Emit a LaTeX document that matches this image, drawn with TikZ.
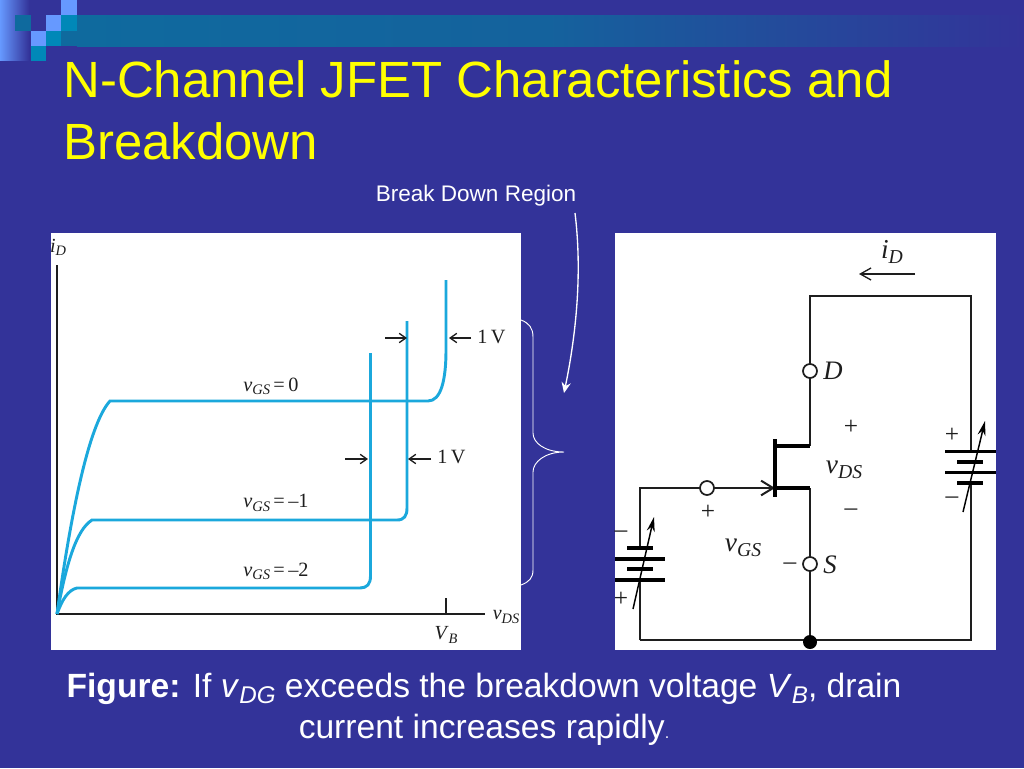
\documentclass[tikz,border=0pt]{standalone}
\usepackage{fontspec}
\setmainfont{Liberation Serif}
\newfontfamily\slidefont{Liberation Sans}
\usetikzlibrary{positioning,arrows.meta}
\definecolor{colorback}  {RGB}{51 ,51 ,153}
\definecolor{colorband}  {RGB}{15 ,106,158}
\definecolor{colorteal}  {RGB}{0  ,136,184}
\definecolor{colorlight} {RGB}{102,153,255}
\definecolor{colorcurve} {RGB}{27 ,168,220}
\definecolor{colorink}   {RGB}{30 ,30 ,30 }
\definecolor{colortitle} {RGB}{255,255,0  }
\newcommand{\isub}[2]{\textit{#1}\raisebox{-.35ex}{\scalebox{.72}{\textit{#2}}}}
\newcommand{\plotlabel}[1]{\isub{v}{GS}\,=\,#1}

\begin{document}
\begin{tikzpicture}[
    x=.75pt, y=-.75pt,
    title/.style={text=colortitle,font={\slidefont\fontsize{38.2}{47}\selectfont},align=left,inner sep=0pt},
    caption/.style={text=white,font={\slidefont\fontsize{25.2}{30.75}\selectfont},align=center,inner sep=0pt},
    note/.style={text=white,font={\slidefont\fontsize{16.9}{19}\selectfont},inner sep=0pt},
    plotlabel/.style={text=colorink,font={\fontsize{15.2}{17}\selectfont},inner sep=0pt},
    symbol/.style={text=colorink,font={\fontsize{19}{22}\selectfont},inner sep=0pt},
    axislabel/.style={symbol,font={\fontsize{15}{17}\selectfont}},
    bigitalic/.style={symbol,font={\itshape\fontsize{20}{22}\selectfont}},
    vlabel/.style={symbol,font={\fontsize{20.5}{23}\selectfont}},
    panel/.style={fill=white,draw=none},
    curve/.style={colorcurve,line width=2.2pt},
    axis/.style={colorink,line width=1.2pt},
    wire/.style={colorink,line width=1.5pt},
    plate/.style={black,line width=2.6pt},
    terminal/.style={circle,draw=colorink,fill=white,line width=1.3pt,minimum size=10.5pt,inner sep=0pt},
    varrow/.style={black,line width=1.1pt,-{Stealth[length=11pt,width=6pt]}},
    dimarrow/.style={colorink,line width=1pt,-{Straight Barb[length=5pt,width=7pt]}},
    brace/.style={white,line width=.7pt},
]

    % Slide
    \fill[colorback] (0,0) rectangle (1024,768);
    \useasboundingbox (0,0) rectangle (1024,768);
    \shade[left color=colorlight,right color=colorback] (0,0) rectangle (29,60);
    \shade[left color=colorband,right color=colorback,middle color=colorband!85!colorback] (77,15) rectangle (1024,46);
    \fill[colorband] (15,15) rectangle (31,31);
    \fill[colorlight] (46,15) rectangle (61,31);
    \fill[colorlight] (61,0) rectangle (77,15);
    \fill[colorteal] (61,15) rectangle (77,31);
    \fill[colorlight] (31,31) rectangle (46,46);
    \fill[colorteal] (46,31) rectangle (61,46);
    \fill[colorband] (61,31) rectangle (77,46);
    \fill[colorteal] (31,46) rectangle (46,61);

    \node[title,anchor=north west] (slidetitle) at (63,60) {N-Channel JFET Characteristics and\\Breakdown};
    \node[caption] (figcaption) at (484,709.5) {\textbf{Figure:} If \isub{v}{DG} exceeds the breakdown voltage \isub{V}{B}, drain\\current increases rapidly{\fontsize{12}{12}\selectfont.}};

    % Characteristics
    \fill[panel] (51,233) rectangle (521,650);
    \coordinate (origin) at (57,614);
    \coordinate (idend) at (57,265);
    \coordinate (vdsend) at (485,614);
    \coordinate (vbfoot) at (446,614);
    \coordinate (vbtop) at (446,598);
    \draw[axis] (idend) -- (origin) -- (vdsend);
    \draw[axis,line width=.8pt] (vbfoot) -- (vbtop);
    \node[axislabel] (idlabel) at (58,247) {\isub{i}{D}};
    \node[axislabel] (vdslabel) at (506,617) {\isub{v}{DS}};
    \node[axislabel] (vblabel) at (446,635) {\isub{V}{B}};

    \draw[curve] (origin) .. controls (70,520) and (88,425) .. (110,401) -- (428,401)
        .. controls (441,401) and (446,380) .. (446,350) -- (446,280);
    \draw[curve] (origin) .. controls (66,565) and (76,530) .. (92,520) -- (397,520)
        .. controls (404,520) and (407,516) .. (407,508) -- (407,321);
    \draw[curve] (origin) .. controls (62,600) and (68,590) .. (77,588) -- (360,588)
        .. controls (367,588) and (370.5,584) .. (370.5,576) -- (370.5,353);

    \node[plotlabel,anchor=west] (gszero) at (243,386) {\plotlabel{0}};
    \node[plotlabel,anchor=west] (gsone) at (243,503) {\plotlabel{--1}};
    \node[plotlabel,anchor=west] (gstwo) at (243,571) {\plotlabel{--2}};

    \coordinate (topa) at (385,338);
    \coordinate (topb) at (407,338);
    \coordinate (topc) at (471,338);
    \coordinate (topd) at (449,338);
    \coordinate (lowa) at (345,459);
    \coordinate (lowb) at (368,459);
    \coordinate (lowc) at (431,459);
    \coordinate (lowd) at (408,459);
    \draw[dimarrow] (topa) -- (topb);
    \draw[dimarrow] (topc) -- (topd);
    \draw[dimarrow] (lowa) -- (lowb);
    \draw[dimarrow] (lowc) -- (lowd);
    \node[plotlabel,anchor=west] (onevtop) at (477,337) {1\,V};
    \node[plotlabel,anchor=west] (onevlow) at (437,457) {1\,V};

    % Break down note
    \node[note] (brknote) at (476,196) {Break Down Region};
    \coordinate (brkstart) at (575,213);
    \coordinate (brkend) at (564,393);
    \draw[white,line width=1pt,-{Stealth[length=8pt,width=7pt]}] (brkstart) .. controls (582,270) and (577,330) .. (brkend);
    \draw[brace] (521,320) .. controls (529,323) and (533,328) .. (533,337) -- (533,433)
        .. controls (533,443) and (545,452) .. (564,452)
        .. controls (545,452) and (533,462) .. (533,472) -- (533,570)
        .. controls (533,578) and (529,582) .. (521,585);

    % Circuit
    \fill[panel] (615,233) rectangle (996,650);
    \coordinate (topleft) at (810,296);
    \coordinate (topright) at (971,296);
    \coordinate (botright) at (971,640);
    \coordinate (botleft) at (640,640);
    \coordinate (gateleft) at (640,488);
    \coordinate (chantop) at (775,439);
    \coordinate (chanbot) at (775,497);
    \coordinate (dtap) at (775,446);
    \coordinate (dbend) at (810,446);
    \coordinate (stap) at (775,488);
    \coordinate (sbend) at (810,488);
    \draw[wire] (botleft) -- (gateleft) -- (707,488);
    \draw[wire] (botleft) -- (botright) -- (topright) -- (topleft) -- (dbend);
    \draw[wire] (sbend) -- (810,641);
    \draw[wire,-{Straight Barb[length=9pt,width=11pt]}] (707,488) -- (stap);
    \draw[black,line width=2.6pt] (chantop) -- (chanbot);
    \draw[black,line width=2.4pt] (dtap) -- (dbend);
    \draw[black,line width=2.4pt] (stap) -- (sbend);
    \node[terminal] (drain) at (810,371) {};
    \node[terminal] (source) at (810,564) {};
    \node[terminal] (gate) at (707,488) {};
    \node[circle,fill=black,minimum size=10.5pt,inner sep=0pt] (ground) at (810,642) {};

    % Batteries
    \fill[white] (960,453) rectangle (982,482);
    \draw[plate] (945,451.5) -- (996,451.5);
    \draw[plate] (957,462) -- (983,462);
    \draw[plate] (945,472.5) -- (996,472.5);
    \draw[plate] (957,483) -- (983,483);
    \draw[varrow] (963,512) -- (985,421);
    \fill[white] (630,550) rectangle (650,579);
    \draw[plate] (627,548) -- (653,548);
    \draw[plate] (615,559) -- (665,559);
    \draw[plate] (627,569) -- (653,569);
    \draw[plate] (615,580) -- (665,580);
    \draw[varrow] (633,609) -- (654,517);

    % Circuit labels
    \coordinate (ida) at (915,274);
    \coordinate (idb) at (859,274);
    \draw[colorink,line width=1pt,-{Straight Barb[length=8pt,width=9pt]}] (ida) -- (idb);
    \node[vlabel] (idtext) at (892,252) {\isub{i}{D}};
    \node[bigitalic] (dtext) at (833,371) {D};
    \node[bigitalic] (stext) at (830,565) {S};
    \node[vlabel] (vdstext) at (844,470) {\isub{v}{DS}};
    \node[vlabel] (vgstext) at (743,548) {\isub{v}{GS}};
    \node[symbol] (plusa) at (851,427) {+};
    \node[symbol] (minusa) at (851,512) {--};
    \node[symbol] (plusb) at (708,512) {+};
    \node[symbol] (minusb) at (790,566) {--};
    \node[symbol] (plusc) at (952,435) {+};
    \node[symbol] (minusc) at (952,500) {--};
    \node[symbol] (plusd) at (621,599) {+};
    \node[symbol] (minusd) at (621,534) {--};

\end{tikzpicture}
\end{document}
